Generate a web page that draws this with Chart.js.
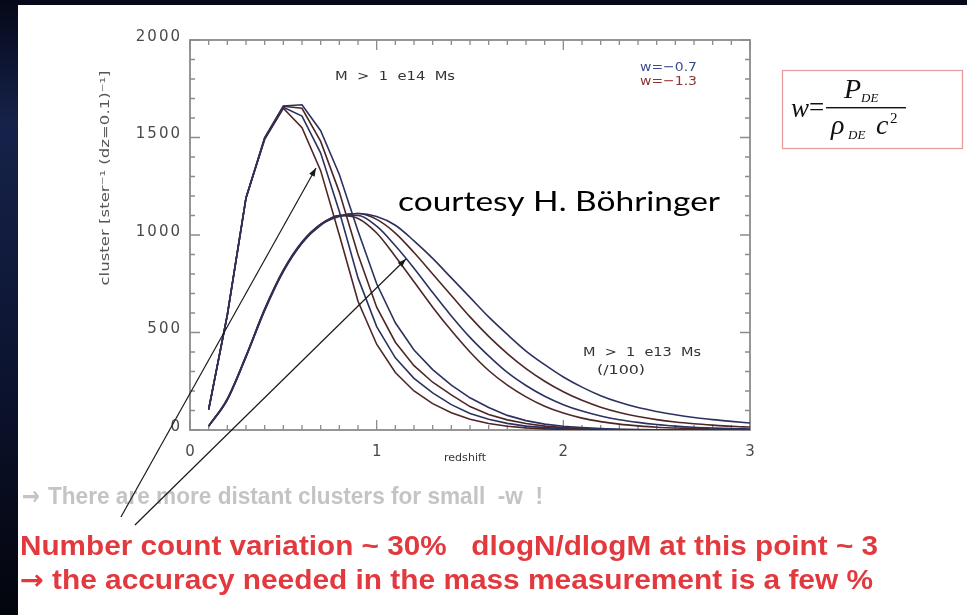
<!DOCTYPE html>
<html>
<head>
<meta charset="utf-8">
<script src="https://cdn.jsdelivr.net/npm/chart.js@4.4.1/dist/chart.umd.min.js"></script>
<style>
  html, body { margin: 0; padding: 0; width: 967px; height: 615px; overflow: hidden; }
  body { background: linear-gradient(to bottom, #050818 0%, #16224a 20%, #0c1430 60%, #03050c 100%); }
  #slide { position: absolute; left: 18px; top: 5px; right: 0; bottom: 0; background: #fff; }
  #wrap { position: absolute; left: 0; top: 0; width: 967px; height: 615px; }
</style>
</head>
<body>
<div id="slide"></div>
<div id="wrap"><canvas id="chart" width="967" height="615"></canvas></div>
<script>
// redshift grid (dz = 0.1)
const redshift = [0.1, 0.2, 0.3, 0.4, 0.5, 0.6, 0.7, 0.8, 0.9, 1.0,
                  1.1, 1.2, 1.3, 1.4, 1.5, 1.6, 1.7, 1.8, 1.9, 2.0,
                  2.1, 2.2, 2.3, 2.4, 2.5, 2.6, 2.7, 2.8, 2.9, 3.0];

// M > 1e14 Ms
const m14a = [105, 590, 1190, 1490, 1650, 1550, 1330, 1000, 660, 440, 295, 200, 135, 88, 55, 33, 19, 11, 6, 3, 2, 1, 0, 0, 0, 0, 0, 0, 0, 0];
const m14b = [105, 590, 1190, 1495, 1655, 1610, 1420, 1120, 780, 530, 370, 265, 190, 130, 85, 55, 34, 20, 12, 7, 4, 2, 1, 0, 0, 0, 0, 0, 0, 0];
const m14c = [105, 590, 1190, 1497, 1660, 1650, 1480, 1220, 900, 630, 450, 330, 245, 180, 120, 80, 52, 33, 20, 12, 7, 4, 2, 1, 0, 0, 0, 0, 0, 0];
const m14d = [105, 590, 1190, 1500, 1662, 1668, 1535, 1310, 1020, 750, 550, 410, 310, 230, 165, 115, 75, 48, 30, 19, 12, 7, 4, 2, 1, 0, 0, 0, 0, 0];

// M > 1e13 Ms (/100)
const m13a = [20, 160, 380, 620, 820, 960, 1050, 1100, 1085, 1010, 890, 760, 630, 510, 400, 305, 230, 170, 122, 87, 61, 43, 30, 21, 14, 10, 7, 5, 3, 2];
const m13b = [20, 160, 380, 620, 820, 965, 1055, 1100, 1100, 1045, 945, 830, 705, 585, 475, 380, 295, 228, 173, 130, 97, 72, 53, 39, 28, 20, 14, 10, 7, 5];
const m13c = [20, 155, 375, 615, 815, 960, 1055, 1098, 1110, 1080, 1010, 910, 800, 690, 580, 480, 392, 315, 250, 196, 152, 117, 90, 69, 53, 41, 32, 25, 19, 15];
const m13d = [20, 155, 375, 612, 812, 958, 1052, 1095, 1110, 1095, 1050, 970, 880, 780, 680, 580, 490, 405, 335, 272, 220, 176, 142, 115, 95, 78, 64, 53, 44, 36];

const xTicks = [0, 1, 2, 3];
const yTicks = [0, 500, 1000, 1500, 2000];

const BLUE = '#2c3160';
const RED = '#4e2626';

function serie(vals, color, smooth) {
    return {
        data: redshift.map((z, i) => ({ x: z, y: vals[i] })),
        borderColor: color,
        borderWidth: 1.6,
        pointRadius: 0,
        fill: false,
        tension: 0,
        cubicInterpolationMode: smooth ? 'monotone' : 'default'
    };
}

// draws text squeezed/stretched to a given width
function fitText(ctx, txt, x, y, w, font, color, align) {
    ctx.save();
    ctx.font = font;
    ctx.fillStyle = color;
    ctx.textBaseline = 'middle';
    ctx.textAlign = 'left';
    const m = ctx.measureText(txt).width;
    const sx = w / m;
    let x0 = x;
    if (align === 'center') x0 = x - w / 2;
    if (align === 'right') x0 = x - w;
    ctx.translate(x0, y);
    ctx.scale(sx, 1);
    ctx.fillText(txt, 0, 0);
    ctx.restore();
}

const frame = {
    id: 'frame',
    beforeDatasetsDraw(chart) {
        const ctx = chart.ctx, a = chart.chartArea;
        const xs = chart.scales.x, ys = chart.scales.y;
        ctx.save();
        ctx.strokeStyle = '#8c8c8c';
        ctx.lineWidth = 1.8;
        ctx.strokeRect(a.left, a.top, a.right - a.left, a.bottom - a.top);
        ctx.lineWidth = 1.3;
        ctx.beginPath();
        // x minor/major ticks, bottom and top, pointing inwards
        for (let k = 0; k <= 30; k++) {
            const px = xs.getPixelForValue(k / 10);
            const len = k % 10 === 0 ? 10 : 5;
            ctx.moveTo(px, a.bottom); ctx.lineTo(px, a.bottom - len);
            ctx.moveTo(px, a.top); ctx.lineTo(px, a.top + len);
        }
        for (let k = 0; k <= 20; k++) {
            const py = ys.getPixelForValue(k * 100);
            const len = k % 5 === 0 ? 10 : 5;
            ctx.moveTo(a.left, py); ctx.lineTo(a.left + len, py);
            ctx.moveTo(a.right, py); ctx.lineTo(a.right - len, py);
        }
        ctx.stroke();

        ctx.fillStyle = '#4a4a4a';
        ctx.font = '15px "DejaVu Sans"';
        ctx.letterSpacing = '2px';
        ctx.textBaseline = 'middle';
        ctx.textAlign = 'right';
        yTicks.forEach(v => ctx.fillText(String(v), a.left - 8, ys.getPixelForValue(v) - 3));
        ctx.textAlign = 'center';
        xTicks.forEach(v => ctx.fillText(String(v), xs.getPixelForValue(v) + 1, a.bottom + 22));
        ctx.letterSpacing = '0px';

        // axis titles
        fitText(ctx, 'redshift', 465, 458, 42, '11px "DejaVu Sans"', '#333', 'center');
        ctx.save();
        ctx.translate(106, 178);
        ctx.rotate(-Math.PI / 2);
        fitText(ctx, 'cluster [ster\u207B\u00B9 (dz=0.1)\u207B\u00B9]', 0, 0, 215, '12px "DejaVu Sans"', '#555', 'center');
        ctx.restore();

        // in-plot labels
        fitText(ctx, 'M  >  1  e14  Ms', 335, 77, 120, '12px "DejaVu Sans"', '#333', 'left');
        fitText(ctx, 'w=\u22120.7', 640, 68, 57, '13px "DejaVu Sans"', '#3b4b8c', 'left');
        fitText(ctx, 'w=\u22121.3', 640, 82, 57, '13px "DejaVu Sans"', '#8c3434', 'left');
        fitText(ctx, 'M  >  1  e13  Ms', 583, 353, 118, '12px "DejaVu Sans"', '#333', 'left');
        fitText(ctx, '(/100)', 597, 371, 48, '13px "DejaVu Sans"', '#333', 'left');
        fitText(ctx, 'courtesy H. Böhringer', 398, 203, 322, '26px Lato', '#000', 'left');

        // formula box
        ctx.fillStyle = '#fff';
        ctx.fillRect(782, 70, 180, 78);
        ctx.strokeStyle = '#e89a9a';
        ctx.lineWidth = 1.2;
        ctx.strokeRect(782.5, 70.5, 180, 78);
        ctx.fillStyle = '#111';
        ctx.textAlign = 'left';
        ctx.textBaseline = 'alphabetic';
        ctx.font = 'italic 27px "Liberation Serif"';
        ctx.fillText('w', 791, 117);
        ctx.font = '27px "Liberation Serif"';
        ctx.fillText('=', 809, 116);
        ctx.fillRect(826, 107, 80, 1.4);
        ctx.font = 'italic 28px "Liberation Serif"';
        ctx.fillText('P', 844, 98);
        ctx.fillText('\u03C1', 831, 134);
        ctx.fillText('c', 876, 134);
        ctx.font = 'italic 13px "Liberation Serif"';
        ctx.fillText('DE', 861, 102);
        ctx.fillText('DE', 848, 139);
        ctx.font = '15px "Liberation Serif"';
        ctx.fillText('2', 890, 123);

        // slide text
        fitText(ctx, '\u2192', 22, 498, 18, 'bold 26px "DejaVu Sans"', '#c4c4c4', 'left');
        fitText(ctx, 'There are more distant clusters for small  -w  !', 48, 498, 495, 'bold 23px "Liberation Sans"', '#c4c4c4', 'left');
        fitText(ctx, 'Number count variation ~ 30%   dlogN/dlogM at this point ~ 3', 20, 548, 858, 'bold 27px "Liberation Sans"', '#e2393f', 'left');
        fitText(ctx, '\u2192', 20, 582, 24, 'bold 27px "DejaVu Sans"', '#e2393f', 'left');
        fitText(ctx, 'the accuracy needed in the mass measurement is a few %', 52, 582, 821, 'bold 27px "Liberation Sans"', '#e2393f', 'left');
        ctx.restore();
    },
    afterDatasetsDraw(chart) {
        const ctx = chart.ctx;
        const xs = chart.scales.x, ys = chart.scales.y;
        // arrows: [tail z, tail N, tip z, tip N]
        const arrows = [[-0.37, -446, 0.675, 1344], [-0.295, -487, 1.157, 877]];
        ctx.save();
        ctx.strokeStyle = '#1a1a1a';
        ctx.fillStyle = '#1a1a1a';
        ctx.lineWidth = 1.2;
        arrows.forEach(r => {
            const x0 = xs.getPixelForValue(r[0]), y0 = ys.getPixelForValue(r[1]);
            const x1 = xs.getPixelForValue(r[2]), y1 = ys.getPixelForValue(r[3]);
            ctx.beginPath(); ctx.moveTo(x0, y0); ctx.lineTo(x1, y1); ctx.stroke();
            const ang = Math.atan2(y1 - y0, x1 - x0);
            ctx.beginPath();
            ctx.moveTo(x1, y1);
            ctx.lineTo(x1 - 9 * Math.cos(ang - 0.35), y1 - 9 * Math.sin(ang - 0.35));
            ctx.lineTo(x1 - 9 * Math.cos(ang + 0.35), y1 - 9 * Math.sin(ang + 0.35));
            ctx.closePath(); ctx.fill();
        });
        ctx.restore();
    }
};

new Chart(document.getElementById('chart').getContext('2d'), {
    type: 'line',
    data: {
        datasets: [
            serie(m13d, BLUE, true),
            serie(m13c, RED, true),
            serie(m13b, BLUE, true),
            serie(m13a, RED, true),
            serie(m14d, BLUE, false),
            serie(m14c, RED, false),
            serie(m14b, BLUE, false),
            serie(m14a, RED, false)
        ]
    },
    options: {
        responsive: false,
        animation: false,
        events: [],
        layout: { padding: { left: 190, top: 40, right: 217, bottom: 185 } },
        plugins: { legend: { display: false }, tooltip: { enabled: false } },
        scales: {
            x: { type: 'linear', min: 0, max: 3, display: false },
            y: { min: 0, max: 2000, display: false }
        }
    },
    plugins: [frame]
});
</script>
</body>
</html>
